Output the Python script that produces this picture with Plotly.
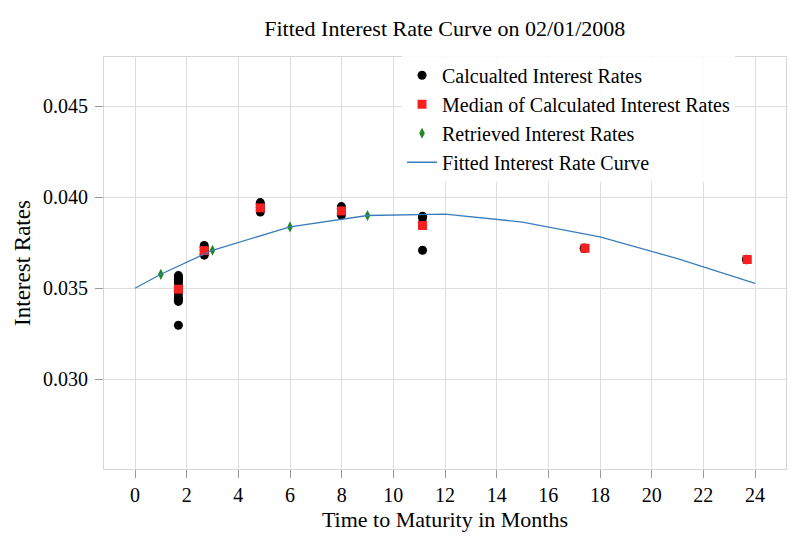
import plotly.graph_objects as go

# Calculated interest rates (black dots): maturity in months, rate
calc_t = [1.68]*12 + [2.68]*6 + [4.85]*5 + [7.99]*5 + [11.13]*5 + [17.39]*2 + [23.67]*2
calc_r = [0.0357, 0.0356, 0.0355, 0.0354, 0.0353, 0.0351, 0.0349, 0.0347, 0.0345, 0.0344, 0.03428, 0.03297,
          0.03735, 0.03725, 0.03712, 0.03705, 0.0369, 0.03682,
          0.03971, 0.03962, 0.03945, 0.03930, 0.03919,
          0.03949, 0.03940, 0.03925, 0.03912, 0.03902,
          0.03896, 0.03888, 0.03860, 0.03845, 0.03709,
          0.03722, 0.03718,
          0.03659, 0.03657]

# Medians of calculated rates (red squares)
med_t = [1.68, 2.68, 4.85, 7.99, 11.13, 17.42, 23.70]
med_r = [0.03495, 0.03707, 0.03942, 0.03925, 0.03845, 0.0372, 0.03658]

# Retrieved interest rates (green diamonds)
ret_t = [1, 3, 6, 9]
ret_r = [0.03577, 0.03709, 0.03837, 0.0390]

# Fitted curve
fit_t = [0, 1, 3, 6, 9, 12, 15, 18, 21, 24]
fit_r = [0.0350, 0.03577, 0.03709, 0.03837, 0.0390, 0.03908, 0.03864, 0.03782, 0.03663, 0.03527]

FONT = "Liberation Serif"

fig = go.Figure()
fig.add_trace(go.Scatter(x=calc_t, y=calc_r, mode="markers", name="Calcualted Interest Rates",
                         marker=dict(color="black", size=9, line=dict(width=0))))
fig.add_trace(go.Scatter(x=med_t, y=med_r, mode="markers", name="Median of Calculated Interest Rates",
                         marker=dict(color="#f5201f", size=9, symbol="square", line=dict(width=0))))
fig.add_trace(go.Scatter(x=ret_t, y=ret_r, mode="markers", name="Retrieved Interest Rates",
                         marker=dict(color="#1e8a1e", size=8, symbol="diamond-tall", line=dict(width=0))))
fig.add_trace(go.Scatter(x=fit_t, y=fit_r, mode="lines", name="Fitted Interest Rate Curve",
                         line=dict(color="#3a7dba", width=1.3)))

axis_common = dict(showgrid=True, gridcolor="#dedede", gridwidth=1, showline=True, linecolor="#d6d6d6",
                   linewidth=1, mirror=True, ticks="outside", ticklen=8, tickcolor="#999999",
                   zeroline=False, automargin=False,
                   tickfont=dict(family=FONT, size=20, color="black"))

fig.update_layout(
    width=800, height=553,
    margin=dict(l=96, r=22, t=49, b=92),
    plot_bgcolor="white", paper_bgcolor="white",
    font=dict(family=FONT, color="black", size=20),
    title=dict(text="Fitted Interest Rate Curve on 02/01/2008", x=0.546, xanchor="center",
               y=0.964, yanchor="middle", yref="container", font=dict(family=FONT, size=22)),
    xaxis=dict(range=[-1.2, 25.2], tickvals=list(range(0, 25, 2)),
               title=dict(text="Time to Maturity in Months", font=dict(family=FONT, size=22), standoff=6),
               **axis_common),
    yaxis=dict(range=[0.02507, 0.04771], tickvals=[0.030, 0.035, 0.040, 0.045], tickformat=".3f",
               ticklabelstandoff=3,
               title=dict(text="Interest Rates", font=dict(family=FONT, size=23), standoff=5),
               **axis_common),
    legend=dict(x=0.437, y=1.003, xanchor="left", yanchor="top", bgcolor="rgba(255,255,255,0.9)",
                borderwidth=0, font=dict(family=FONT, size=20), itemwidth=30, tracegroupgap=0),
    showlegend=True,
)

fig.write_html("out.html")
